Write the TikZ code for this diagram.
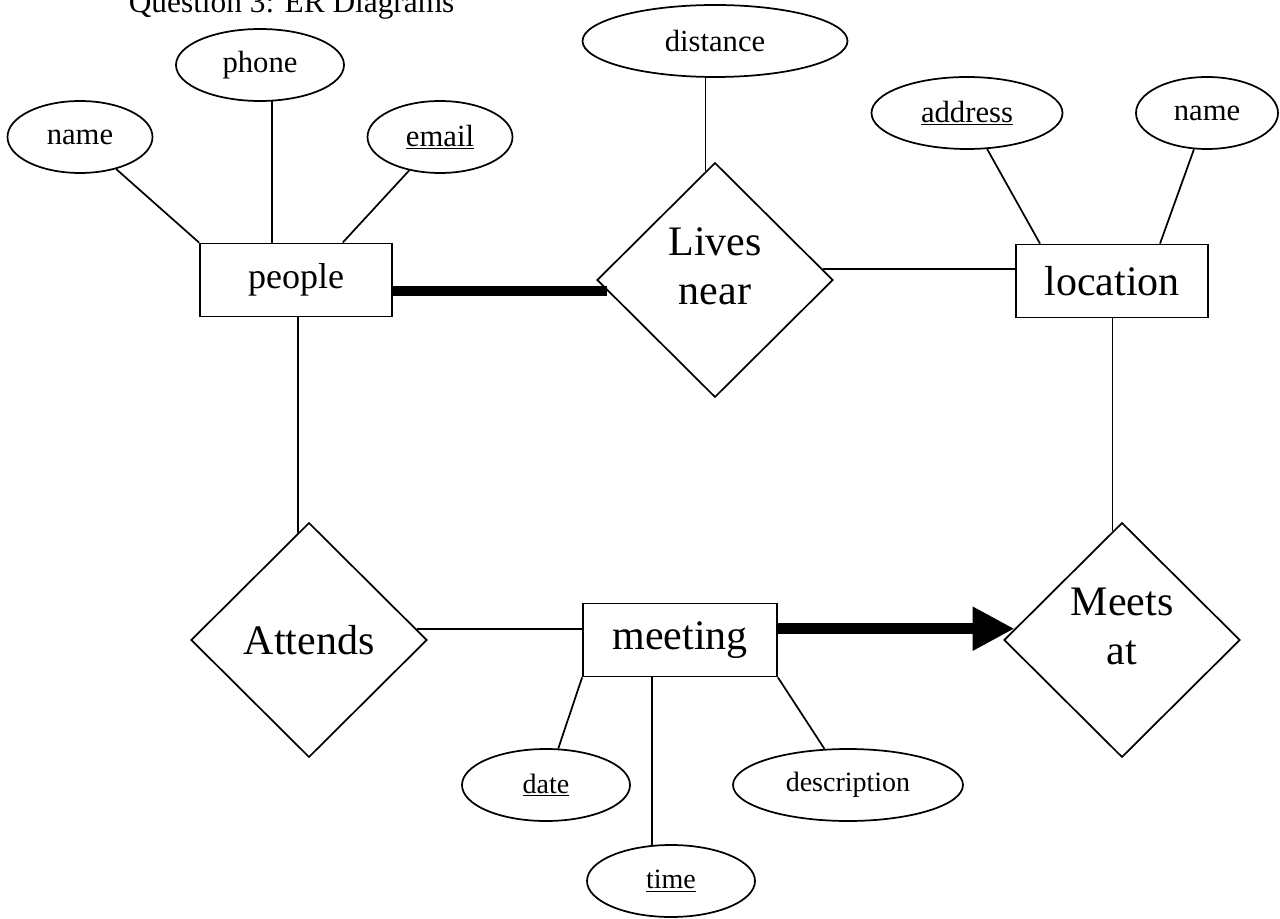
\documentclass[tikz,border=0pt]{standalone}
\usepackage{fontspec}
\setmainfont{Liberation Serif}
\usetikzlibrary{shapes.geometric,arrows.meta}
\tikzset{
  attr/.style={draw,ellipse,inner sep=0pt,minimum height=54pt,font=\fontsize{23}{27}\selectfont},
  entity/.style={draw,rectangle,inner sep=0pt,minimum width=144pt,minimum height=54.75pt,font=\fontsize{31.5}{37}\selectfont},
  rel/.style={draw,diamond,aspect=1,inner sep=0pt,minimum width=177pt,minimum height=176pt,align=center,font=\fontsize{31.5}{37}\selectfont},
  twoline/.style={text depth=21pt},
}
\begin{document}
\begin{tikzpicture}[x=0.75pt,y=-0.75pt,line width=1.3pt]
	\useasboundingbox (0,0) rectangle (1280,919);
	\clip (0,0) rectangle (1280,919);
	\node[anchor=base west,inner sep=0pt,font=\fontsize{23.5}{28}\selectfont] (title) at (128,13) {Question 3: ER Diagrams};
	% entities
	\node[entity,font=\fontsize{27}{32}\selectfont] (people) at (296,280) {people};
	\node[entity] (location) at (1112,281) {location};
	\node[entity,minimum width=145.5pt] (meeting) at (680,640) {meeting};
	% relationships
	\node[rel,twoline] (lives) at (715,280) {Lives\\near};
	\node[rel,twoline] (meets) at (1122,640) {Meets\\at};
	\node[rel] (attends) at (309,640) {Attends};
	% attributes
	\node[attr,minimum width=108.75pt] (pname) at (80,137) {name};
	\node[attr,minimum width=126pt] (phone) at (260,65) {phone};
	\node[attr,minimum width=108.75pt] (email) at (440,137) {\underline{email}};
	\node[attr,minimum width=198.75pt] (distance) at (715,41) {distance};
	\node[attr,minimum width=143.25pt] (address) at (967,113) {\underline{address}};
	\node[attr,minimum width=106.5pt] (lname) at (1207,113) {name};
	\node[attr,minimum width=126pt,font=\fontsize{21}{25}\selectfont] (date) at (546,785) {\underline{date}};
	\node[attr,minimum width=126pt,font=\fontsize{21}{25}\selectfont] (time) at (671,881) {\underline{time}};
	\node[attr,minimum width=172.5pt,font=\fontsize{21}{25}\selectfont] (desc) at (848,785) {description};
	% connectors
	\draw (pname) -- (people.north west);
	\draw (phone.-72) -- (phone.-72 |- people.north);
	\draw (email) -- ([xshift=35pt]people.north);
	\draw [line width=7.5pt] (lives.186 -| people.east) -- (lives.186);
	\draw (lives.95 |- distance.south) -- (lives.95);
	\draw (lives.6) -- (lives.6 -| location.west);
	\draw (address) -- ([xshift=-54pt]location.north);
	\draw (lname) -- ([xshift=36pt]location.north);
	\draw (meets.95 |- location.south) -- (meets.95);
	\draw (attends.96 |- people.south) -- (attends.96);
	\draw (attends.6) -- (attends.6 -| meeting.west);
	\draw [line width=8.25pt,-{Triangle[length=31.5pt,width=31pt]}] (meets.174 -| meeting.east) -- (meets.174);
	\draw (meeting.south west) -- (date);
	\draw (time.118 |- meeting.south) -- (time.118);
	\draw (meeting.south east) -- (desc);
\end{tikzpicture}
\end{document}
